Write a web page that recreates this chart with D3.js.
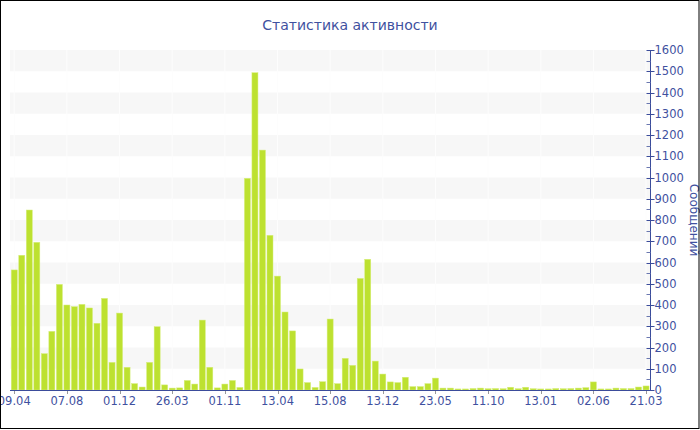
<!DOCTYPE html>
<html><head><meta charset="utf-8">
<script src="https://cdn.jsdelivr.net/npm/d3@7"></script>
<style>body{margin:0;background:#fff}svg{display:block;font-family:"DejaVu Sans",Verdana,sans-serif}</style>
</head><body><svg id="c" width="700" height="430"></svg>
<script>
const title = "Статистика активности";
const yTitle = "Сообщений";
const values = [565,634,847,695,171,276,497,400,392,403,386,314,431,130,362,107,30,14,130,298,
  24,9,10,45,28,329,107,10,28,45,12,996,1493,1129,728,536,367,278,99,35,12,39,334,30,149,116,525,615,136,75,
  38,35,60,16,16,30,56,9,9,5,5,7,9,6,7,6,13,6,13,6,5,5,7,6,7,9,11,38,5,5,9,7,7,14,19];
const tickLabels = ["09.04","07.08","01.12","26.03","01.11","13.04","15.08","13.12","23.05","11.10","13.01","02.06","21.03"];
const tickEvery = 7;
const yMax = 1600;

const svg = d3.select("#c");
const textColor = "#3f51a0";
const x = d3.scaleBand().domain(d3.range(values.length)).range([10.5, 649.8]).paddingInner(0.2).paddingOuter(0.1);
const y = d3.scaleLinear().domain([0, yMax]).range([390, 50]);

// bands
const bands = d3.range(100, yMax, 200);
svg.append("g").selectAll("rect").data(bands).join("rect")
  .attr("x", 10).attr("width", 640)
  .attr("y", d => y(d + 100)).attr("height", d => y(d) - y(d + 100))
  .attr("fill", "#f7f7f7");
// faint vertical grid
const tickIdx = tickLabels.map((_, i) => i * tickEvery);
svg.append("g").selectAll("line").data(tickIdx).join("line")
  .attr("x1", d => x(d) + x.bandwidth() / 2).attr("x2", d => x(d) + x.bandwidth() / 2)
  .attr("y1", 50).attr("y2", 390).attr("stroke", "#fdfdfd").attr("stroke-width", 1);

// bars
svg.append("g").selectAll("rect").data(values).join("rect")
  .attr("x", (d, i) => x(i)).attr("width", x.bandwidth())
  .attr("y", d => y(d)).attr("height", d => y(0) - y(d))
  .attr("fill", "#bde130").attr("stroke", "#d6ee7a").attr("stroke-width", 0.5);

// x axis
const xa = svg.append("g").attr("transform", "translate(0,390)");
xa.append("line").attr("x1", 10).attr("x2", 650).attr("y1", 0.5).attr("y2", 0.5).attr("stroke", "#3b4c9b");
xa.selectAll("line.t").data(tickIdx).join("line").attr("class", "t")
  .attr("x1", d => Math.round(x(d) + x.bandwidth() / 2) + 0.5).attr("x2", d => Math.round(x(d) + x.bandwidth() / 2) + 0.5)
  .attr("y1", 1).attr("y2", 4).attr("stroke", "#999");
xa.selectAll("text").data(tickIdx).join("text")
  .attr("x", d => x(d) + x.bandwidth() / 2).attr("y", 15)
  .attr("text-anchor", "middle").attr("fill", textColor).attr("font-size", "11.5px")
  .text((d, i) => tickLabels[i]);

// right axis
const ya = svg.append("g").attr("transform", "translate(650.5,0)");
ya.append("line").attr("y1", 50).attr("y2", 391).attr("stroke", "#3b4c9b");
ya.selectAll("line.minor").data(d3.range(50, yMax, 100)).join("line").attr("class", "minor")
  .attr("x1", -4).attr("x2", 0).attr("y1", d => Math.round(y(d)) + 0.5).attr("y2", d => Math.round(y(d)) + 0.5).attr("stroke", "#6a78b0");
const yt = y.ticks(16);
ya.selectAll("line.major").data(yt).join("line").attr("class", "major")
  .attr("x1", -4).attr("x2", 4).attr("y1", d => Math.round(y(d)) + 0.5).attr("y2", d => Math.round(y(d)) + 0.5).attr("stroke", "#3b4c9b");
ya.selectAll("text").data(yt).join("text")
  .attr("x", 4).attr("y", d => y(d)).attr("dy", "0.36em")
  .attr("fill", textColor).attr("font-size", "11.5px").text(d => d);

svg.append("text").attr("transform", "translate(690,220) rotate(90)")
  .attr("text-anchor", "middle").attr("fill", textColor).attr("font-size", "12px").text(yTitle);

svg.append("text").attr("x", 350).attr("y", 30).attr("text-anchor", "middle")
  .attr("fill", textColor).attr("font-size", "14px").text(title);

svg.append("rect").attr("x", 0.5).attr("y", 0.5).attr("width", 698.5).attr("height", 428)
  .attr("fill", "none").attr("stroke", "#000");
</script></body></html>
